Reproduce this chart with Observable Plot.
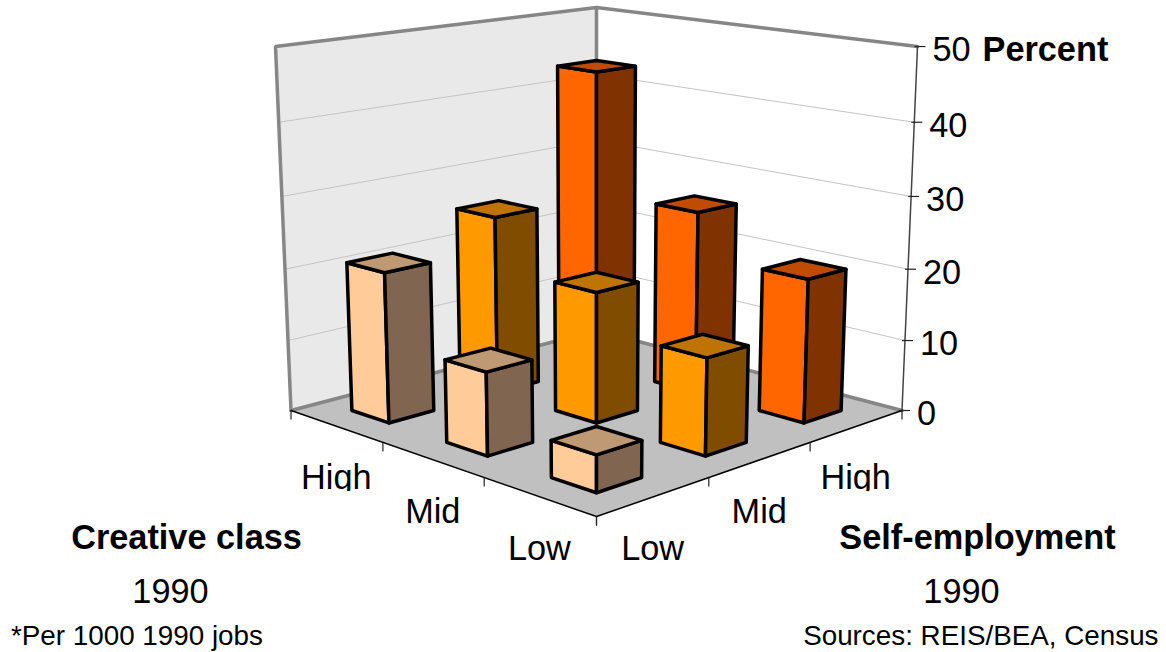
<!DOCTYPE html>
<html>
<head>
<meta charset="utf-8">
<script src="https://cdn.jsdelivr.net/npm/d3@7"></script>
<script src="https://cdn.jsdelivr.net/npm/@observablehq/plot@0.6"></script>
<style>
  html, body { margin: 0; padding: 0; background: #fff; overflow: hidden; }
  svg { display: block; }
</style>
</head>
<body>
<div id="chart"></div>
<script>
// Share of jobs by creative-class and self-employment level, 1990
const creativeLevels = ["High", "Mid", "Low"];
const selfLevels = ["Low", "Mid", "High"];
const selfLow = [20.9, 11.3, 4.9];
const selfMid = [25.3, 18.2, 13.2];
const selfHigh = [43.3, 26, 20];
const percentTicks = [0, 10, 20, 30, 40, 50];

const faceColors = {
  Low: {side: "#FFCC99", shade: "#806650", top: "#BF9973"},
  Mid: {side: "#FF9900", shade: "#804C00", top: "#BF7300"},
  High: {side: "#FF6600", shade: "#803300", top: "#BF4C00"}
};
const seriesValues = {Low: selfLow, Mid: selfMid, High: selfHigh};

// Perspective camera for the box: a runs along the self-employment floor edge
// (0 at the far wall, 1 at the near edge), b along the creative-class edge.
const maxPercent = 50;
function project(a, b, percent) {
  const d = b - a, e = a + b - 1, h = percent / maxPercent;
  const w = 1 - 0.1398 * e - 0.0483 * h;
  return [596 + 305.5 * d / w, (410 + 33.9 * e - 366.2 * h + 2.2 * e * h) / w];
}
const slot = (i) => (i + 0.5) / 3;
const halfWidth = 0.067;

function polygon(id, fill, corners) {
  return corners.map(([a, b, p]) => {
    const [x, y] = project(a, b, p);
    return {id, fill, x, y};
  });
}

// Bars back to front, so nearer boxes paint over farther ones
const barCells = [];
selfLevels.forEach((s, si) => creativeLevels.forEach((c, ci) => {
  barCells.push({s, c, a: slot(2 - si), b: slot(ci), v: seriesValues[s][ci]});
}));
barCells.sort((p, q) => (p.a + p.b) - (q.a + q.b));

const barFaces = barCells.flatMap(({s, c, a, b, v}) => {
  const k = `${s}-${c}`, col = faceColors[s];
  const a0 = a - halfWidth, a1 = a + halfWidth, b0 = b - halfWidth, b1 = b + halfWidth;
  return [
    ...polygon(k + "-side", col.side, [[a1, b0, 0], [a1, b1, 0], [a1, b1, v], [a1, b0, v]]),
    ...polygon(k + "-shade", col.shade, [[a1, b1, 0], [a0, b1, 0], [a0, b1, v], [a1, b1, v]]),
    ...polygon(k + "-top", col.top, [[a1, b0, v], [a1, b1, v], [a0, b1, v], [a0, b0, v]])
  ];
});

const pt = (a, b, p) => { const [x, y] = project(a, b, p); return {x, y}; };
const segment = (id, ...corners) => corners.map(([a, b, p]) => ({id, ...pt(a, b, p)}));

const wallLeft = polygon("wall-left", "#E9E9E9", [[1, 0, 0], [0, 0, 0], [0, 0, 50], [1, 0, 50]]);
const floor = polygon("floor", "#C0C0C0", [[1, 0, 0], [1, 1, 0], [0, 1, 0], [0, 0, 0]]);

const gridLines = percentTicks.slice(1, -1).flatMap((p) =>
  segment("grid" + p, [1, 0, p], [0, 0, p], [0, 1, p]));

const wallFrame = [
  ...segment("frame-top", [1, 0, 0], [1, 0, 50], [0, 0, 50], [0, 1, 50]),
  ...segment("frame-back", [0, 0, 0], [0, 0, 50]),
  ...segment("frame-floor", [1, 0, 0], [0, 0, 0], [0, 1, 0])
];

const edgeLines = segment("edge", [1, 0, 0], [1, 1, 0], [0, 1, 0]);
const valueAxis = segment("axis", [0, 1, 0], [0, 1, 50]);

const valueTicks = percentTicks.map((p) => ({...pt(0, 1, p), p}));
const floorTicks = [0, 1, 2, 3].flatMap((i) => [pt(1, i / 3, 0), pt(i / 3, 1, 0)]);
const creativeLabels = creativeLevels.map((t, i) => ({t, ...pt(1, slot(i), 0)}));
const selfLabels = selfLevels.map((t, i) => ({t, ...pt(slot(2 - i), 1, 0)}));

const font = "Liberation Sans";
const bigText = {fontSize: 34.3, fontFamily: font, fill: "#000"};
const noteText = {fontSize: 27.8, fontFamily: font, fill: "#000"};
const chart = Plot.plot({
  width: 1166,
  height: 652,
  margin: 0,
  x: {domain: [0, 1166], range: [0, 1166], axis: null},
  y: {domain: [0, 652], range: [0, 652], axis: null},
  color: {type: "identity"},
  marks: [
    Plot.line(wallLeft, {x: "x", y: "y", z: "id", fill: "fill", stroke: "none", curve: "linear-closed"}),
    Plot.line(floor, {x: "x", y: "y", z: "id", fill: "fill", stroke: "none", curve: "linear-closed"}),
    Plot.line(gridLines, {x: "x", y: "y", z: "id", stroke: "#C4C4C4", strokeWidth: 1}),
    Plot.line(wallFrame, {x: "x", y: "y", z: "id", stroke: "#868686", strokeWidth: 3.5, strokeLinejoin: "miter"}),
    Plot.line(edgeLines, {x: "x", y: "y", z: "id", stroke: "#000", strokeWidth: 1.5}),
    Plot.line(valueAxis, {x: "x", y: "y", z: "id", stroke: "#444", strokeWidth: 1.5}),
    Plot.link(valueTicks, {x1: (d) => d.x - 3, x2: (d) => d.x + 8, y1: "y", y2: "y", stroke: "#222", strokeWidth: 1.2}),
    Plot.link(floorTicks, {x1: "x", x2: "x", y1: "y", y2: (d) => d.y + 9, stroke: "#222", strokeWidth: 1.2}),
    Plot.line(barFaces, {x: "x", y: "y", z: "id", fill: "fill", stroke: "#000", strokeWidth: 3.5, curve: "linear-closed"}),
    Plot.text(valueTicks, {x: "x", y: "y", text: (d) => String(d.p), dx: 15, dy: 3.5, textAnchor: "start", ...bigText}),
    Plot.text(creativeLabels, {x: "x", y: "y", text: "t", dx: 0.5, dy: 52, ...bigText}),
    Plot.text(selfLabels, {x: "x", y: "y", text: "t", dx: -1.5, dy: 52, ...bigText}),
    // the two "High" labels lose their descender to the plot-area edge
    Plot.rect(creativeLabels.concat(selfLabels).filter((d) => d.t === "High"), {
      x1: (d) => d.x - 45, x2: (d) => d.x + 60, y1: 491, y2: 497, fill: "#fff"
    }),
    Plot.text(["Percent"], {x: 982, y: 50, textAnchor: "start", fontWeight: "bold", ...bigText}),
    Plot.text(["Creative class"], {x: 186, y: 538, fontWeight: "bold", ...bigText}),
    Plot.text(["Self-employment"], {x: 977, y: 538, fontWeight: "bold", ...bigText}),
    Plot.text(["1990"], {x: 170, y: 592, ...bigText}),
    Plot.text(["1990"], {x: 961, y: 592, ...bigText}),
    Plot.text(["*Per 1000 1990 jobs"], {x: 10.5, y: 636, textAnchor: "start", ...noteText}),
    Plot.text(["Sources: REIS/BEA, Census"], {x: 1158, y: 636, textAnchor: "end", ...noteText})
  ]
});
document.getElementById("chart").append(chart);
</script>
</body>
</html>
